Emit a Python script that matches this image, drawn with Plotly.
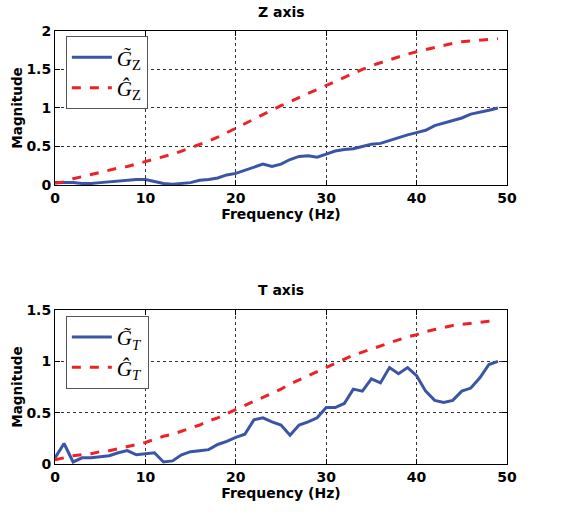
import plotly.graph_objects as go
from plotly.subplots import make_subplots

# Frequency bins (Hz)
freq = list(range(50))

# Z axis: measured and model magnitude responses
z_measured = [0.03, 0.03, 0.03, 0.02, 0.02, 0.03, 0.04, 0.05, 0.06, 0.07,
              0.07, 0.04, 0.02, 0.01, 0.02, 0.03, 0.06, 0.07, 0.09, 0.13,
              0.15, 0.19, 0.24, 0.27, 0.24, 0.27, 0.33, 0.37, 0.38, 0.36,
              0.40, 0.44, 0.46, 0.47, 0.50, 0.53, 0.54, 0.58, 0.61, 0.65,
              0.68, 0.71, 0.77, 0.80, 0.83, 0.87, 0.92, 0.95, 0.97, 1.00]
z_model = [0.02, 0.04, 0.08, 0.11, 0.14, 0.17, 0.19, 0.22, 0.24, 0.27,
           0.30, 0.33, 0.37, 0.40, 0.44, 0.48, 0.53, 0.57, 0.62, 0.68,
           0.74, 0.79, 0.85, 0.91, 0.97, 1.03, 1.08, 1.14, 1.19, 1.24,
           1.29, 1.35, 1.40, 1.45, 1.50, 1.55, 1.59, 1.63, 1.67, 1.70,
           1.73, 1.76, 1.79, 1.82, 1.84, 1.86, 1.87, 1.88, 1.89, 1.90]

# T axis: measured and model magnitude responses
t_measured = [0.06, 0.20, 0.02, 0.06, 0.06, 0.07, 0.08, 0.11, 0.13, 0.09,
              0.10, 0.11, 0.02, 0.03, 0.09, 0.12, 0.13, 0.14, 0.19, 0.22,
              0.26, 0.29, 0.43, 0.45, 0.41, 0.38, 0.28, 0.38, 0.41, 0.45,
              0.55, 0.55, 0.59, 0.73, 0.71, 0.83, 0.79, 0.94, 0.88, 0.94,
              0.86, 0.71, 0.62, 0.60, 0.62, 0.71, 0.74, 0.84, 0.97, 1.00]
t_model = [0.04, 0.06, 0.08, 0.09, 0.10, 0.12, 0.13, 0.15, 0.17, 0.19,
           0.21, 0.24, 0.27, 0.29, 0.32, 0.35, 0.38, 0.42, 0.45, 0.49,
           0.53, 0.57, 0.61, 0.65, 0.69, 0.73, 0.78, 0.82, 0.86, 0.90,
           0.94, 0.98, 1.02, 1.06, 1.09, 1.12, 1.15, 1.18, 1.21, 1.24,
           1.26, 1.29, 1.31, 1.33, 1.35, 1.36, 1.37, 1.38, 1.39, 1.39]

x_ticks = [0, 10, 20, 30, 40, 50]
z_ticks = [0, 0.5, 1, 1.5, 2]
z_ticklabels = ["0", "0.5", "1", "1.5", "2"]
t_ticks = [0, 0.5, 1, 1.5]
t_ticklabels = ["0", "0.5", "1", "1.5"]

BLUE = "#3a55a5"
RED = "#ec2227"
SANS = "DejaVu Sans, Arial"

fig = make_subplots(rows=2, cols=1, vertical_spacing=0.289)

fig.add_trace(go.Scatter(x=freq, y=z_measured, mode="lines",
                         line=dict(color=BLUE, width=3),
                         name="<i>G\u0303</i><sub>Z</sub>", legend="legend"),
              row=1, col=1)
fig.add_trace(go.Scatter(x=freq, y=z_model, mode="lines",
                         line=dict(color=RED, width=3, dash="dash"),
                         name="<i>G\u0302</i><sub>Z</sub>", legend="legend"),
              row=1, col=1)
fig.add_trace(go.Scatter(x=freq, y=t_measured, mode="lines",
                         line=dict(color=BLUE, width=3),
                         name="<i>G\u0303</i><sub><i>T</i></sub>", legend="legend2"),
              row=2, col=1)
fig.add_trace(go.Scatter(x=freq, y=t_model, mode="lines",
                         line=dict(color=RED, width=3, dash="dash"),
                         name="<i>G\u0302</i><sub><i>T</i></sub>", legend="legend2"),
              row=2, col=1)

axis_font = dict(family=SANS, size=14, color="black")
common_x = dict(range=[0, 50], tickvals=x_ticks, ticks="inside", ticklen=5,
                tickcolor="black", showline=True, linecolor="black", linewidth=1,
                mirror="ticks", showgrid=True, gridcolor="#333333", griddash="dot",
                gridwidth=1, zeroline=False, tickfont=axis_font,
                title=dict(text="<b>Frequency (Hz)</b>", font=axis_font, standoff=3))
common_y = dict(ticks="inside", ticklen=5, tickcolor="black", showline=True,
                linecolor="black", linewidth=1, mirror="ticks", showgrid=True,
                gridcolor="#333333", griddash="dot", gridwidth=1, zeroline=False,
                tickfont=axis_font,
                title=dict(text="<b>Magnitude</b>",
                           font=dict(family=SANS, size=13.5, color="black"), standoff=0))

fig.update_xaxes(**common_x)
fig.update_yaxes(**common_y)
fig.update_yaxes(range=[0, 2], tickvals=z_ticks,
                 ticktext=["<b>%s</b>" % t for t in z_ticklabels], row=1, col=1)
fig.update_yaxes(range=[0, 1.5], tickvals=t_ticks,
                 ticktext=["<b>%s</b>" % t for t in t_ticklabels], row=2, col=1)
fig.update_xaxes(ticktext=["<b>%d</b>" % t for t in x_ticks])

legend_style = dict(bgcolor="white", bordercolor="#555555", borderwidth=1,
                    font=dict(family="Liberation Serif, Times New Roman", size=21, color="black"),
                    xanchor="left", yanchor="top", xref="paper", yref="paper",
                    itemwidth=40, tracegroupgap=0)

fig.update_layout(
    width=562, height=512,
    margin=dict(l=55, r=55, t=31, b=48),
    paper_bgcolor="white", plot_bgcolor="white",
    showlegend=True,
    legend=dict(x=0.024, y=0.988, **legend_style),
    legend2=dict(x=0.024, y=0.342, **legend_style),
    annotations=[
        dict(text="<b>Z axis</b>", x=0.5, y=1.0, xref="paper", yref="paper",
             xanchor="center", yanchor="bottom", yshift=9, showarrow=False,
             font=dict(family=SANS, size=14, color="black")),
        dict(text="<b>T axis</b>", x=0.5, y=0.358, xref="paper", yref="paper",
             xanchor="center", yanchor="bottom", yshift=9, showarrow=False,
             font=dict(family=SANS, size=14, color="black")),
    ],
)

fig.write_html("out.html")
